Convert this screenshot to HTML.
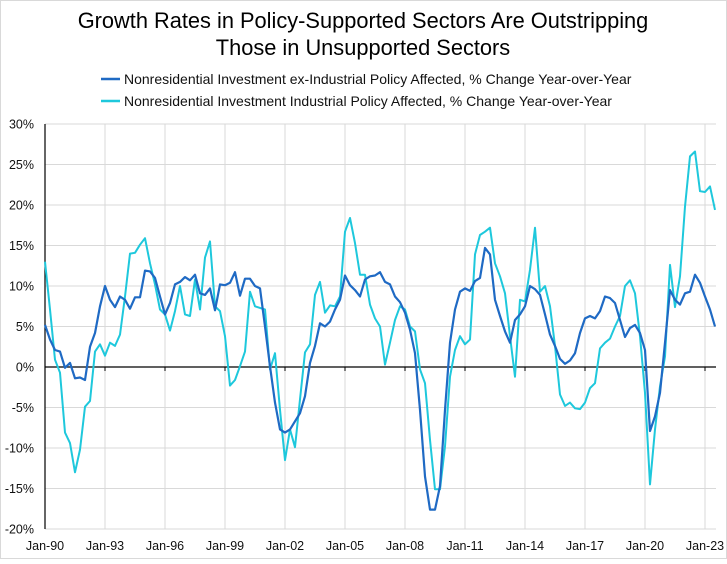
<!DOCTYPE html>
<html><head><meta charset="utf-8"><style>
html,body{margin:0;padding:0;background:#fff;}
body{width:727px;height:559px;overflow:hidden;font-family:"Liberation Sans",sans-serif;}
svg text{font-family:"Liberation Sans",sans-serif;}
</style></head><body>
<svg id="chart" width="727" height="559" viewBox="0 0 727 559" xmlns="http://www.w3.org/2000/svg">
<rect x="0.5" y="0.5" width="726" height="558" fill="#fff" stroke="#d9d9d9"/>
<text x="363" y="28" text-anchor="middle" font-size="21.8" fill="#000">Growth Rates in Policy-Supported Sectors Are Outstripping</text>
<text x="363" y="55" text-anchor="middle" font-size="21.8" fill="#000">Those in Unsupported Sectors</text>
<g>
<line x1="101" y1="79" x2="120" y2="79" stroke="#1f6ac4" stroke-width="2.5"/>
<text x="124" y="84" font-size="14" fill="#111">Nonresidential Investment ex-Industrial Policy Affected, % Change Year-over-Year</text>
<line x1="101" y1="101" x2="120" y2="101" stroke="#1ec8dc" stroke-width="2.5"/>
<text x="124" y="106" font-size="14" fill="#111">Nonresidential Investment Industrial Policy Affected, % Change Year-over-Year</text>
</g>
<g id="grid"></g>
<g id="axes"></g>
<g id="series"></g>
</svg>
<script>
const startYear = 1990;
const yTicks = [30,25,20,15,10,5,0,-5,-10,-15,-20];
const xTickYears = [1990,1993,1996,1999,2002,2005,2008,2011,2014,2017,2020,2023];
const exIndustrial = [
5.2,3.4,2.1,1.9, -0.1,0.5,-1.4,-1.3, -1.6,2.5,4.2,7.5, 10,8.3,7.4,8.7, 8.3,7.2,8.6,8.6,
11.9,11.8,11,8.7, 6.5,7.9,10.2,10.5, 11.1,10.7,11.4,9.1, 8.9,9.7,7,10.2, 10.1,10.4,11.7,8.8,
10.9,10.9,10,9.7, 5,0.1,-4.4,-7.7, -8.1,-7.7,-6.7,-5.7, -3.6,0.5,2.6,5.4, 5,5.6,7.1,8.3,
11.3,10.1,9.5,8.7, 10.8,11.2,11.3,11.7, 10.5,10.2,8.7,8, 6.7,4.6,1.7,-5.3, -13.5,-17.6,-17.6,-14.7,
-5.3,3,7.1,9.3, 9.7,9.4,10.6,11, 14.7,13.9,8.3,6.3, 4.4,3,5.8,6.5, 7.5,10,9.6,8.9,
6.5,4,2.6,1, 0.4,0.8,1.7,4.2, 6,6.3,6,6.9, 8.7,8.5,7.9,5.8, 3.7,4.8,5.2,4.2,
2.1,-7.9,-6.1,-3.2, 3,9.5,8.3,7.7, 9.1,9.3,11.4,10.4, 8.7,7.1,5
];
const industrial = [
13,7.1,0.9,-0.7, -8.1,-9.4,-13,-10.2, -4.9,-4.2,1.9,2.8, 1.4,3,2.6,4, 8.7,14,14.1,15.1,
15.9,12.8,10.2,7.1, 6.5,4.5,6.9,10, 6.5,6.3,10.8,7.1, 13.5,15.5,7.5,6.9, 3.8,-2.3,-1.6,0.1,
1.9,9.3,7.5,7.3, 7.1,-0.3,1.7,-5.3, -11.5,-7.7,-9.9,-4, 1.8,2.8,8.9,10.5, 6.7,7.6,7.5,8.7,
16.7,18.4,15.3,11.4, 11.4,7.7,6,5, 0.3,3,5.8,7.5, 7.1,5,4.4,-0.3, -2,-9,-15.1,-15.1,
-9.8,-1.2,2.1,3.8, 2.8,3.4,13.9,16.3, 16.7,17.2,12.8,11.2, 9.1,3.8,-1.2,8.3, 8.1,12,17.2,9.3,
10,7.5,2.6,-3.4, -4.8,-4.4,-5.1,-5.2, -4.4,-2.6,-2,2.3, 3,3.5,5,6.3, 10,10.7,9.1,3.8,
-3.2,-14.5,-7.7,-2.4, 1.3,12.6,7.4,11.2, 19.8,26,26.6,21.7, 21.6,22.3,19.4
];
const NS="http://www.w3.org/2000/svg";
const X0=45, PXY=20, Y0=367, PXP=8.1, RIGHT=716;
function xs(t){return X0+(t-startYear)*PXY;}
function ys(v){return Y0-v*PXP;}
function mk(tag,attrs,parent){const e=document.createElementNS(NS,tag);for(const k in attrs)e.setAttribute(k,attrs[k]);parent.appendChild(e);return e;}
const grid=document.getElementById('grid'), axes=document.getElementById('axes'), series=document.getElementById('series');
yTicks.forEach(v=>{
  const l=mk('line',{x1:X0,x2:RIGHT,y1:ys(v),y2:ys(v),stroke:'#d9d9d9','stroke-width':1},grid);
  
  
  const t=mk('text',{x:34,y:ys(v)+4.5,'text-anchor':'end','font-size':12.5,fill:'#111'},axes);
  t.textContent=v+'%';
  
  
});
xTickYears.forEach(yr=>{
  const x=xs(yr);
  if(yr!==startYear){
    const l=mk('line',{x1:x,x2:x,y1:ys(30),y2:ys(-20),stroke:'#d9d9d9','stroke-width':1},grid);
    
    
  }
  const tk=mk('line',{x1:x,x2:x,y1:Y0,y2:Y0+4,stroke:'#000','stroke-width':1},axes);
  
  
  const t=mk('text',{x:x,y:550,'text-anchor':'middle','font-size':12.5,fill:'#111'},axes);
  t.textContent='Jan-'+String(yr).slice(2);
  
  
});
const ya=mk('line',{x1:X0,x2:X0,y1:ys(30),y2:ys(-20),stroke:'#000','stroke-width':1.2},axes);


const za=mk('line',{x1:X0,x2:RIGHT,y1:Y0,y2:Y0,stroke:'#000','stroke-width':1.2},axes);


function pts(arr){return arr.map((v,i)=>xs(startYear+i/4).toFixed(1)+','+ys(v).toFixed(1)).join(' ');}
const p1=mk('polyline',{points:pts(industrial),fill:'none',stroke:'#1ec8dc','stroke-width':2,'stroke-linejoin':'round'},series);


const p2=mk('polyline',{points:pts(exIndustrial),fill:'none',stroke:'#1f6ac4','stroke-width':2.2,'stroke-linejoin':'round'},series);


</script>
</body></html>
